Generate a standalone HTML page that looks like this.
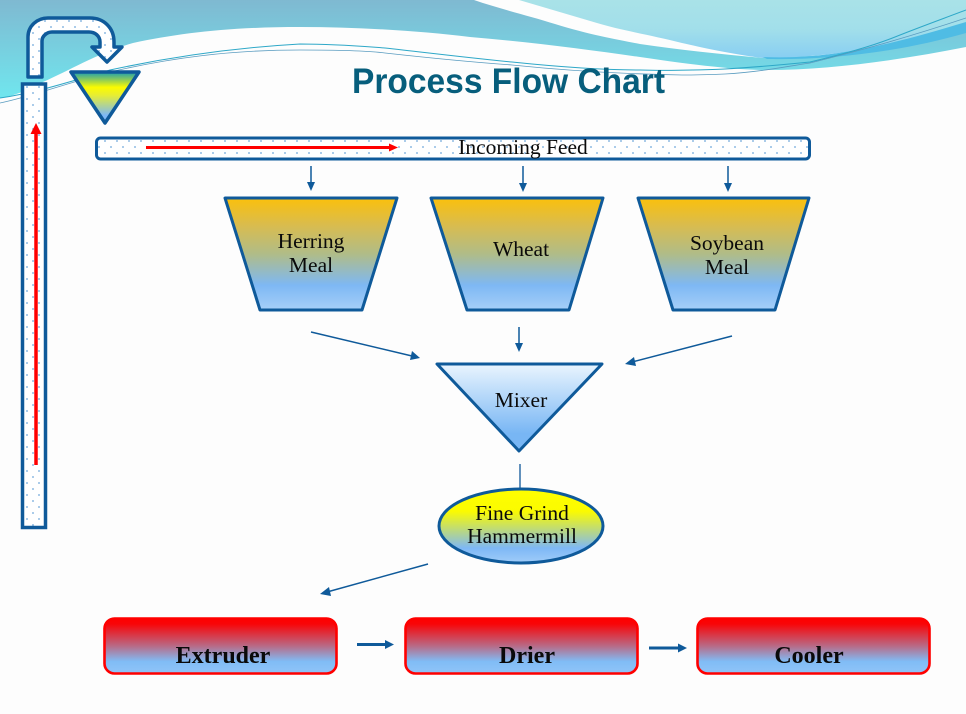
<!DOCTYPE html>
<html><head><meta charset="utf-8"><style>
html,body{margin:0;padding:0;background:#fdfdfd;width:966px;height:714px;overflow:hidden}
svg{display:block}
.t{font-family:"Liberation Serif",serif;font-size:21.5px;fill:#0a0a0a;text-anchor:middle}
.b{font-family:"Liberation Serif",serif;font-size:24px;font-weight:bold;fill:#0a0a0a;text-anchor:middle}
</style></head><body>
<svg width="966" height="714" viewBox="0 0 966 714" xmlns="http://www.w3.org/2000/svg">
<defs>
<linearGradient id="bgA" x1="0" y1="0" x2="0" y2="1"><stop offset="0" stop-color="#7fb9d1"/><stop offset="1" stop-color="#70e6ee"/></linearGradient>
<linearGradient id="bgB" x1="0" y1="0" x2="0" y2="1"><stop offset="0" stop-color="#a9e2e8"/><stop offset=".5" stop-color="#a2dfea"/><stop offset="1" stop-color="#88cef2"/></linearGradient>
<linearGradient id="hop" x1="0" y1="0" x2="0" y2="1"><stop offset="0" stop-color="#fbc00c"/><stop offset=".25" stop-color="#d8bc50"/><stop offset=".5" stop-color="#b0bc88"/><stop offset=".78" stop-color="#7eb8f4"/><stop offset="1" stop-color="#a6cff8"/></linearGradient>
<linearGradient id="fun" x1="0" y1="0" x2="0" y2="1"><stop offset="0" stop-color="#1a9cb4"/><stop offset=".3" stop-color="#fbfb00"/><stop offset=".45" stop-color="#e8ee30"/><stop offset=".85" stop-color="#7db8f6"/><stop offset="1" stop-color="#7db8f6"/></linearGradient>
<linearGradient id="mix" x1="0" y1="0" x2="0" y2="1"><stop offset="0" stop-color="#eaf5fe"/><stop offset=".8" stop-color="#78b6f4"/><stop offset="1" stop-color="#78b6f4"/></linearGradient>
<linearGradient id="ell" x1="0" y1="0" x2="0" y2="1"><stop offset="0" stop-color="#ffff00"/><stop offset=".3" stop-color="#fbfb00"/><stop offset=".8" stop-color="#7eb8f6"/><stop offset="1" stop-color="#a0ccf8"/></linearGradient>
<linearGradient id="red" x1="0" y1="0" x2="0" y2="1"><stop offset="0" stop-color="#ff0000"/><stop offset=".1" stop-color="#f80508"/><stop offset=".5" stop-color="#b86a86"/><stop offset=".78" stop-color="#80bcf6"/><stop offset="1" stop-color="#90c4f8"/></linearGradient>
<pattern id="dots" width="12" height="12" patternUnits="userSpaceOnUse"><rect width="12" height="12" fill="#fff"/><circle cx="3" cy="3" r=".9" fill="#6fa8dc"/><circle cx="9" cy="9" r=".9" fill="#6fa8dc"/></pattern>
</defs>
<rect width="966" height="714" fill="#fdfdfd"/>
<!-- header swoosh -->
<path d="M0 0H474C500 9 530 16 555 24C590 35 620 40 640 44C680 50 720 54 763 58L831 55L966 24V47C900 60 830 70 767 70C740 70 700 66 640 57C590 50 530 42 470 37C420 31 360 27 300 27C230 27 180 33 133 43C100 52 70 70 43 82C30 90 10 97 0 98Z" fill="url(#bgA)"/>
<path d="M519 0H966V25C900 45 830 58 763 58C730 54 700 47 682 43C650 35 620 30 597 23Z" fill="url(#bgB)"/>
<path d="M763 57C830 60 890 45 966 22V33C900 52 830 60 767 59Z" fill="#4fbce4"/>
<path d="M0 98C40 92 75 80 110 70C170 57 230 48 300 44C340 44 370 47 385 48C430 53 470 58 512 62C560 67 600 70 640 70C670 71 700 70 725 69C760 67 790 64 810 62C840 55 870 47 895 37C920 27 945 18 966 10" fill="none" stroke="#2ea8c8" stroke-width="1"/>
<path d="M0 103C30 97 70 82 110 72C170 58 230 50 300 50C340 50 370 51 385 53C430 58 470 62 512 65C560 70 620 74 682 75C700 75 725 74 725 74C760 72 790 66 810 63C850 53 900 40 966 18" fill="none" stroke="#5a9cc0" stroke-width=".8"/>
<!-- title -->
<text x="352" y="93" font-family="Liberation Sans,sans-serif" font-weight="bold" font-size="35" fill="#075e7c" textLength="313" lengthAdjust="spacingAndGlyphs">Process Flow Chart</text>
<!-- elevator -->
<rect x="22.500" y="84" width="23" height="443.500" fill="url(#dots)" stroke="#0f5a9a" stroke-width="3.500"/>
<path d="M36 465V130" stroke="#f00" stroke-width="3.500" fill="none"/>
<path d="M36 123L41.500 134H30.500Z" fill="#f00"/>
<path d="M28 77V37C28 26 37 18 48 18H90C104 18 114 28 114 42V47H122L107 62L92 47H100V42C100 36 95 32 89 32H52C47 32 42 36 42 41V77Z" fill="url(#dots)" stroke="#0f5a9a" stroke-width="3.500" stroke-linejoin="round"/>
<path d="M71 72H139L105 123Z" fill="url(#fun)" stroke="#0f5a9a" stroke-width="3.500" stroke-linejoin="round"/>
<!-- feed conveyor -->
<rect x="96.500" y="138" width="713" height="21" rx="4" fill="url(#dots)" stroke="#0f5a9a" stroke-width="3"/>
<path d="M146 147.500H390" stroke="#f00" stroke-width="3" fill="none"/>
<path d="M398 147.500L389 143.500V151.500Z" fill="#f00"/>
<text class="t" x="523" y="154">Incoming Feed</text>
<!-- feed arrows -->
<g fill="#0f5a9a">
<path d="M311 166V184" stroke="#0f5a9a" stroke-width="1.500"/><path d="M311 191L307 182H315Z"/>
<path d="M523 166V185" stroke="#0f5a9a" stroke-width="1.500"/><path d="M523 192L519 183H527Z"/>
<path d="M728 166V185" stroke="#0f5a9a" stroke-width="1.500"/><path d="M728 192L724 183H732Z"/>
<path d="M519 327V345" stroke="#0f5a9a" stroke-width="1.500"/><path d="M519 352L515 343H523Z"/>
<path d="M311 332L412 356" stroke="#0f5a9a" stroke-width="1.500"/><path d="M420 358L410 360L412 351Z"/>
<path d="M732 336L632 362" stroke="#0f5a9a" stroke-width="1.500"/><path d="M625 364L634 357L636 366Z"/>
<path d="M428 564L327 592" stroke="#0f5a9a" stroke-width="1.500"/><path d="M320 594L329 587L331 596Z"/>
<path d="M520 464V488" stroke="#2f6da6" stroke-width="1.500"/>
<path d="M357 644.500H386" stroke="#0f5a9a" stroke-width="3"/><path d="M394 644.500L385 640V649Z"/>
<path d="M649 648H679" stroke="#0f5a9a" stroke-width="3"/><path d="M687 648L678 643.500V652.500Z"/>
</g>
<!-- hoppers -->
<path d="M225 198H397L362 310H260Z" fill="url(#hop)" stroke="#0f5a9a" stroke-width="3" stroke-linejoin="round"/>
<path d="M431 198H603L569 310H467Z" fill="url(#hop)" stroke="#0f5a9a" stroke-width="3" stroke-linejoin="round"/>
<path d="M638 198H809L775 310H673Z" fill="url(#hop)" stroke="#0f5a9a" stroke-width="3" stroke-linejoin="round"/>
<text class="t" x="311" y="248">Herring</text><text class="t" x="311" y="272">Meal</text>
<text class="t" x="521" y="256">Wheat</text>
<text class="t" x="727" y="250">Soybean</text><text class="t" x="727" y="274">Meal</text>
<!-- mixer -->
<path d="M437 364H602L519 451Z" fill="url(#mix)" stroke="#0f5a9a" stroke-width="3" stroke-linejoin="round"/>
<text class="t" x="521" y="407">Mixer</text>
<!-- hammermill -->
<ellipse cx="521" cy="526" rx="82" ry="37" fill="url(#ell)" stroke="#0f5a9a" stroke-width="3"/>
<text class="t" x="522" y="520">Fine Grind</text><text class="t" x="522" y="543">Hammermill</text>
<!-- bottom -->
<rect x="104.500" y="618.500" width="232" height="55" rx="10" fill="url(#red)" stroke="#f00" stroke-width="2.600"/>
<rect x="405.500" y="618.500" width="232" height="55" rx="10" fill="url(#red)" stroke="#f00" stroke-width="2.600"/>
<rect x="697.500" y="618.500" width="232" height="55" rx="10" fill="url(#red)" stroke="#f00" stroke-width="2.600"/>
<text class="b" x="223" y="663">Extruder</text>
<text class="b" x="527" y="663">Drier</text>
<text class="b" x="809" y="663">Cooler</text>
</svg>
</body></html>
